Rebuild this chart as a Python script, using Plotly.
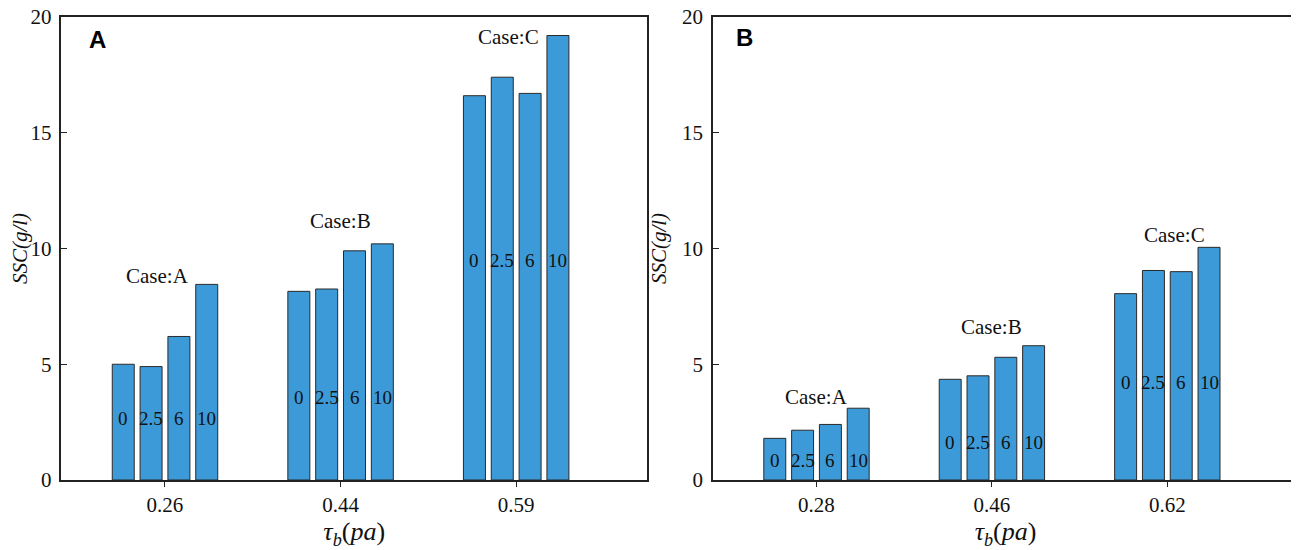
import plotly.graph_objects as go

# data
series_names = ['0', '2.5', '6', '10']
case_names = ['Case:A', 'Case:B', 'Case:C']

tau_a = ['0.26', '0.44', '0.59']
ssc_a = [
    [5.0, 8.15, 16.6],   # 0
    [4.9, 8.25, 17.4],   # 2.5
    [6.2, 9.9, 16.7],    # 6
    [8.45, 10.2, 19.2],  # 10
]

tau_b = ['0.28', '0.46', '0.62']
ssc_b = [
    [1.8, 4.35, 8.05],
    [2.15, 4.5, 9.05],
    [2.4, 5.3, 9.0],
    [3.1, 5.8, 10.05],
]

# where the in-bar labels and the case labels sit (data units)
LABEL_Y_A = [2.65, 3.55, 9.48]
CASE_Y_A = [8.8, 11.17, 19.15]
CASE_DX_A = [-0.045, 0.0, -0.045]
LABEL_Y_B = [0.85, 1.63, 4.22]
CASE_Y_B = [3.57, 6.61, 10.6]
CASE_DX_B = [0.0, 0.0, 0.04]

BAR_COLOR = '#3d9ad8'
FONT = 'Liberation Serif, Times New Roman, serif'
BARGAP = 0.366
GROUPGAP = 0.21

fig = go.Figure()

panels = [
    (tau_a, ssc_a, LABEL_Y_A, CASE_Y_A, CASE_DX_A, 'x', 'y', 'A', 0.0625, 0.951),
    (tau_b, ssc_b, LABEL_Y_B, CASE_Y_B, CASE_DX_B, 'x2', 'y2', 'B', 0.053, 0.955),
]

annotations = []
for cats, vals, lab_y, case_y, case_dx, xa, ya, letter, lx, ly in panels:
    idx = list(range(len(cats)))
    for s, name in enumerate(series_names):
        fig.add_trace(go.Bar(
            x=idx, y=vals[s], name=name, xaxis=xa, yaxis=ya,
            marker=dict(color=BAR_COLOR, line=dict(color='#2a2a2a', width=1)),
            showlegend=False,
        ))
    # labels inside the bars, same height within a group
    slot = (1 - BARGAP) / len(series_names)
    for g in idx:
        for s, name in enumerate(series_names):
            xpos = g - (1 - BARGAP) / 2 + slot * (s + 0.5)
            annotations.append(dict(
                x=xpos, y=lab_y[g], xref=xa, yref=ya, text=name,
                showarrow=False, font=dict(family=FONT, size=19, color='#111111'),
            ))
        annotations.append(dict(
            x=g + case_dx[g], y=case_y[g], xref=xa, yref=ya, text=case_names[g],
            showarrow=False, font=dict(family=FONT, size=21, color='#111111'),
        ))
    annotations.append(dict(
        x=lx, y=ly, xanchor='center', yanchor='middle',
        xref=xa + ' domain', yref=ya + ' domain',
        text='<b>%s</b>' % letter, showarrow=False,
        font=dict(family='Arial', size=24, color='black'),
    ))

axis_common = dict(
    showline=True, linecolor='#222222', linewidth=1.5, mirror=True,
    showgrid=False, zeroline=False, automargin=False,
    ticklabeloverflow='allow',
    tickfont=dict(family=FONT, size=21, color='#111111'),
)

x_common = dict(axis_common, range=[-0.59, 2.745], tickmode='array',
                tickvals=[0, 1, 2],
                ticks='outside', ticklen=5, tickcolor='#222222',
                title=dict(text='<i>τ<sub>b</sub></i>(<i>pa</i>)',
                           font=dict(family=FONT, size=26, color='#111111'),
                           standoff=6))
y_common = dict(axis_common, range=[0, 20], dtick=5,
                ticks='inside', ticklen=6, tickcolor='#222222',
                ticklabelstandoff=4,
                title=dict(text='<i>SSC(g/l)</i>',
                           font=dict(family=FONT, size=21, color='#111111'),
                           standoff=10))

# the page puts the figure 8px in from its top-left corner
fig.update_layout(
    width=1291, height=542,
    margin=dict(l=0, r=0, t=0, b=0, autoexpand=False),
    plot_bgcolor='white', paper_bgcolor='white',
    barmode='group', bargap=BARGAP, bargroupgap=GROUPGAP,
    xaxis=dict(x_common, domain=[0.04136, 0.49496], anchor='y', ticktext=tau_a),
    yaxis=dict(y_common, domain=[0.12915, 0.98339], anchor='x'),
    xaxis2=dict(x_common, domain=[0.54609, 0.99923], anchor='y2', ticktext=tau_b),
    yaxis2=dict(y_common, domain=[0.12915, 0.98339], anchor='x2'),
    annotations=annotations,
)

fig.write_html("out.html")
